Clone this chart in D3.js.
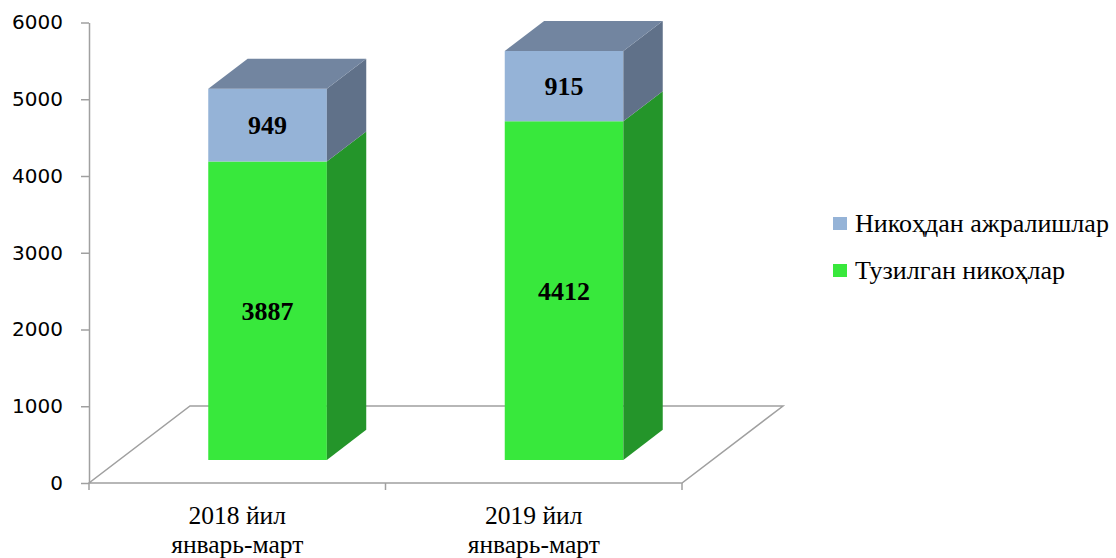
<!DOCTYPE html>
<html>
<head>
<meta charset="utf-8">
<script src="https://cdn.jsdelivr.net/npm/d3@7"></script>
<style>
  body { margin: 0; background: #fff; }
  .axis text { font-family: "DejaVu Sans", sans-serif; font-size: 20px; fill: #000; }
  .axis path, .axis line { stroke: #a0a0a0; stroke-width: 1.5; }
</style>
</head>
<body>
<div class="chart"></div>
<script>
const width = 1116;
const height = 558;

// data
const categories = ['2018 йил|январь-март', '2019 йил|январь-март'];
const seriesNames = ['Тузилган никоҳлар', 'Никоҳдан ажралишлар'];
const marriages = [3887, 4412];
const divorces = [949, 915];
const yTicks = [0, 1000, 2000, 3000, 4000, 5000, 6000];

const colors = {
    front: ['#38e83c', '#95b3d7'],
    side: ['#24952a', '#607189'],
    top: ['#2fbf33', '#7285a0']
};

const svg = d3.select('.chart').append('svg')
    .attr('width', width)
    .attr('height', height)
    .attr('viewBox', `0 0 ${width} ${height}`);

// scales
const yScale = d3.scaleLinear().domain([0, 6000]).range([483, 22.5]);
const xScale = d3.scaleBand().domain(categories).range([89, 682]).paddingInner(0).paddingOuter(0);
// depth of the floor (projected offset of the back plane)
const depthX = 101, depthY = -77;
const barZ0 = 0.3, barZ1 = 0.69;
const barWidth = xScale.bandwidth() * 0.4;

const proj = (x, v, z) => [x + z * depthX, yScale(v) + z * depthY];

/* floor */
const floor = [proj(89, 0, 0), proj(682, 0, 0), proj(682, 0, 1), proj(89, 0, 1)];
svg.append('path')
    .attr('d', 'M' + floor.join('L') + 'Z')
    .attr('fill', 'none')
    .attr('stroke', '#a0a0a0')
    .attr('stroke-width', 1.5);

/* y axis */
svg.append('g')
    .attr('class', 'axis')
    .attr('transform', 'translate(89,0)')
    .call(d3.axisLeft(yScale).tickValues(yTicks).tickFormat(d3.format('d'))
        .tickSize(8).tickSizeOuter(0).tickPadding(18));

/* x axis: front edge ticks at band boundaries */
const edges = categories.map(c => xScale(c)).concat([xScale.range()[1]]);
svg.append('g').selectAll('line')
    .data(edges)
    .enter()
    .append('line')
    .attr('x1', d => d).attr('x2', d => d)
    .attr('y1', yScale(0)).attr('y2', yScale(0) + 7)
    .attr('stroke', '#a0a0a0')
    .attr('stroke-width', 1.5);

svg.append('g').selectAll('text')
    .data(categories)
    .enter()
    .append('text')
    .attr('x', d => xScale(d) + xScale.bandwidth() / 2)
    .attr('y', 524)
    .attr('text-anchor', 'middle')
    .style('font-family', '"Liberation Serif", "Times New Roman", serif')
    .style('font-size', '25.5px')
    .each(function (d) {
        d.split('|').forEach((line, i) => {
            d3.select(this).append('tspan')
                .attr('x', xScale(d) + xScale.bandwidth() / 2)
                .attr('dy', i === 0 ? 0 : 29)
                .text(line);
        });
    });

/* stacked 3d bars */
const stacks = d3.stack().keys([0, 1])(categories.map((c, i) => [marriages[i], divorces[i]]));
const poly = pts => 'M' + pts.join('L') + 'Z';

stacks.forEach((layer, s) => {
    layer.forEach((seg, i) => {
        const x0 = xScale(categories[i]) + (xScale.bandwidth() - barWidth) / 2;
        const x1 = x0 + barWidth;
        const v0 = seg[0], v1 = seg[1];
        const g = svg.append('g');
        // front face
        g.append('path')
            .attr('d', poly([proj(x0, v0, barZ0), proj(x1, v0, barZ0), proj(x1, v1, barZ0), proj(x0, v1, barZ0)]))
            .attr('fill', colors.front[s]);
        // side face
        g.append('path')
            .attr('d', poly([proj(x1, v0, barZ0), proj(x1, v0, barZ1), proj(x1, v1, barZ1), proj(x1, v1, barZ0)]))
            .attr('fill', colors.side[s]);
        // top face (only visible on the last segment)
        if (s === stacks.length - 1) {
            g.append('path')
                .attr('d', poly([proj(x0, v1, barZ0), proj(x1, v1, barZ0), proj(x1, v1, barZ1), proj(x0, v1, barZ1)]))
                .attr('fill', colors.top[s]);
        }
        const c = proj((x0 + x1) / 2, (v0 + v1) / 2, barZ0);
        g.append('text')
            .attr('x', c[0])
            .attr('y', c[1] + 9)
            .attr('text-anchor', 'middle')
            .style('font-family', '"Liberation Serif", "Times New Roman", serif')
            .style('font-size', '26px')
            .style('font-weight', 'bold')
            .text(v1 - v0);
    });
});

/* legend */
const legend = svg.append('g').attr('transform', 'translate(833,217)');
const legendItems = [1, 0];
legendItems.forEach((s, i) => {
    legend.append('rect')
        .attr('x', 0).attr('y', i * 47)
        .attr('width', 14).attr('height', 13)
        .attr('fill', colors.front[s]);
    legend.append('text')
        .attr('x', 22).attr('y', i * 47 + 15)
        .style('font-family', '"Liberation Serif", "Times New Roman", serif')
        .style('font-size', '26px')
        .text(seriesNames[s]);
});
</script>
</body>
</html>
